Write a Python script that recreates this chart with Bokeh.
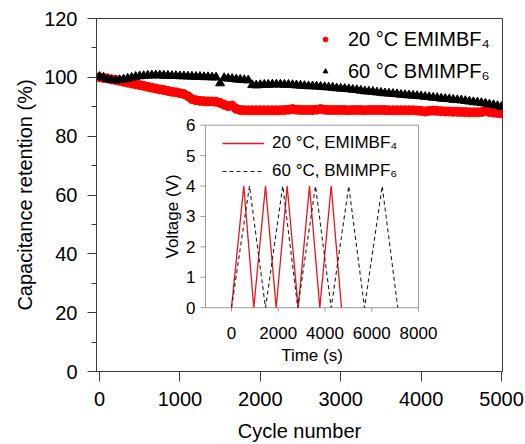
import math
from bokeh.plotting import figure
from bokeh.models import Range1d, Legend, LegendItem, FixedTicker
from bokeh.core.properties import value
from bokeh.embed import file_html
from bokeh.resources import INLINE

FONT = "Liberation Sans"

# ---------------- main data ----------------
cycles = list(range(0, 5001, 50))

red_retention = [
    100.0, 99.8, 99.6, 99.3, 99.1, 98.8, 98.5, 98.2, 97.9, 97.6,
    97.4, 97.1, 96.8, 96.5, 96.2, 95.9, 95.7, 95.4, 95.1, 94.9,
    94.6, 94.3, 93.6, 92.6, 92.2, 92.0, 91.9, 91.8, 91.8, 91.7,
    91.3, 90.7, 90.2, 90.4, 89.3, 88.9, 88.8, 88.8, 88.8, 88.8,
    88.8, 88.8, 88.8, 88.8, 88.8, 88.8, 88.9, 89.0, 89.2, 89.0,
    88.9, 88.9, 88.9, 88.9, 89.0, 89.2, 89.0, 88.9, 88.9, 88.9,
    88.9, 88.9, 88.8, 88.9, 88.9, 88.9, 88.8, 88.9, 88.9, 88.9,
    88.9, 88.9, 88.8, 88.8, 88.8, 88.8, 88.8, 88.8, 88.8, 88.7,
    88.6, 88.4, 88.6, 88.7, 88.6, 88.5, 88.4, 88.4, 88.3, 88.3,
    88.2, 88.2, 88.1, 88.1, 88.1, 88.2, 88.6, 88.2, 88.0, 87.9,
    87.8,
]

black_retention = [
    100.2, 99.9, 99.4, 99.1, 99.0, 99.1, 99.3, 99.6, 99.9, 100.2,
    100.4, 100.5, 100.6, 100.7, 100.7, 100.7, 100.6, 100.6, 100.5, 100.5,
    100.4, 100.4, 100.3, 100.3, 100.2, 100.2, 100.1, 100.1, 100.0, 100.0,
    98.0, 99.8, 99.6, 99.5, 99.3, 99.2, 99.1, 99.0, 97.4, 97.3,
    97.4, 97.5, 97.5, 97.6, 97.6, 97.6, 97.5, 97.5, 97.4, 97.3,
    97.2, 97.1, 97.0, 97.0, 96.9, 96.8, 96.7, 96.6, 96.5, 96.3,
    96.2, 96.1, 96.0, 95.8, 95.7, 95.5, 95.3, 95.2, 95.1, 94.9,
    94.8, 94.6, 94.5, 94.4, 94.3, 94.1, 94.0, 93.9, 93.8, 93.7,
    93.6, 93.4, 93.3, 93.1, 93.0, 92.8, 92.7, 92.6, 92.4, 92.3,
    92.2, 92.0, 91.8, 91.6, 91.5, 91.3, 91.1, 90.8, 90.6, 90.3,
    90.0,
]

main_x_ticks = [0, 1000, 2000, 3000, 4000, 5000]
main_y_ticks = [0, 20, 40, 60, 80, 100, 120]
main_y_minor = [10, 30, 50, 70, 90, 110]

label_red = "20 \u00b0C EMIMBF\u2084"
label_black = "60 \u00b0C BMIMPF\u2086"

# ---------------- inset data ----------------
red_time = [0, 526, 954, 1455, 1912, 2383, 2853, 3337, 3778, 4265, 4706]
red_volt = [0, 4, 0, 4, 0, 4, 0, 4, 0, 4, 0]
black_time = [0, 770, 1455, 2195, 2836, 3594, 4265, 5018, 5690, 6447, 7114]
black_volt = [0, 4, 0, 4, 0, 4, 0, 4, 0, 4, 0]

inset_x_ticks = [0, 2000, 4000, 6000, 8000]
inset_y_ticks = [0, 1, 2, 3, 4, 5, 6]
inset_x_limits = (-1112, 8000)
inset_y_limits = (0, 6)

inset_label_red = "20 \u00b0C, EMIMBF\u2084"
inset_label_black = "60 \u00b0C, BMIMPF\u2086"

# ---------------- figure ----------------
W, H = 525, 444
BL, BR, BT, BB = 96, 23, 18, 72
FW, FH = W - BL - BR, H - BT - BB

p = figure(width=W, height=H, output_backend="svg", toolbar_location=None,
           x_range=Range1d(-37, 5012), y_range=Range1d(0, 120),
           min_border_left=BL, min_border_right=BR,
           min_border_top=BT, min_border_bottom=BB)
p.grid.visible = False
p.outline_line_color = "#3a3a3a"
p.background_fill_color = "white"
p.border_fill_color = "white"

# extra ranges: place the inset (time / voltage) inside the main frame
t_range = Range1d(-5775, 11594)
v_range = Range1d(-2.098, 9.508)
p.extra_x_ranges = {"t": t_range}
p.extra_y_ranges = {"v": v_range}
t_per_px = (t_range.end - t_range.start) / FW
v_per_px = (v_range.end - v_range.start) / FH

r_red = p.scatter(cycles, red_retention, marker="circle", size=9,
                  fill_color="#ff0000", line_color="#ff0000")
r_black = p.scatter(cycles, black_retention, marker="triangle", size=9,
                    fill_color="black", line_color="black")

p.xaxis.ticker = FixedTicker(ticks=main_x_ticks)
p.yaxis.ticker = FixedTicker(ticks=main_y_ticks, minor_ticks=main_y_minor)
for ax in (p.xaxis[0], p.yaxis[0]):
    ax.axis_line_color = "#3a3a3a"
    ax.major_tick_line_color = "#3a3a3a"
    ax.minor_tick_line_color = "#3a3a3a"
    ax.major_tick_in = 0
    ax.major_tick_out = 9
    ax.minor_tick_in = 0
    ax.minor_tick_out = 5
    ax.major_label_text_font = FONT
    ax.major_label_text_font_size = "20px"
    ax.major_label_text_color = "black"
    ax.axis_label_text_font = FONT
    ax.axis_label_text_font_size = "20px"
    ax.axis_label_text_font_style = "normal"
    ax.axis_label_text_color = "black"
p.xaxis.minor_tick_line_color = None
p.xaxis.major_tick_out = 10
p.xaxis.major_label_standoff = 10
p.xaxis.axis_label_standoff = 11
p.yaxis.major_label_standoff = 10
p.yaxis.axis_label_standoff = 5
p.xaxis.axis_label = "Cycle number"
p.yaxis.axis_label = "Capacitance retention (%)"

legend = Legend(items=[LegendItem(label=label_red, renderers=[r_red]),
                       LegendItem(label=label_black, renderers=[r_black])],
                location=(223, 286))
legend.background_fill_alpha = 0
legend.border_line_color = None
legend.label_text_font = FONT
legend.label_text_font_size = "20px"
legend.label_text_color = "black"
legend.glyph_width = 12
legend.glyph_height = 28
legend.label_height = 28
legend.spacing = 4
legend.label_standoff = 17
legend.margin = 0
legend.padding = 0
p.add_layout(legend)

# ---------------- inset ----------------
GRAY = "#9a9a9a"
p.quad(left=[inset_x_limits[0]], right=[inset_x_limits[1]],
       bottom=[inset_y_limits[0]], top=[inset_y_limits[1]],
       fill_color="white", line_color=GRAY, line_width=1,
       x_range_name="t", y_range_name="v")

l_red = p.line(red_time, red_volt, line_color="#e8141b", line_width=1.3,
               x_range_name="t", y_range_name="v")
l_black = p.line(black_time, black_volt, line_color="#222222", line_width=1.1,
                 line_dash="4 3", x_range_name="t", y_range_name="v")

x0 = inset_x_limits[0]
y0 = inset_y_limits[0]
p.segment(x0=inset_x_ticks, y0=[y0] * len(inset_x_ticks),
          x1=inset_x_ticks, y1=[y0 - 4 * v_per_px] * len(inset_x_ticks),
          line_color=GRAY, line_width=1, x_range_name="t", y_range_name="v")
p.segment(x0=[x0] * len(inset_y_ticks), y0=inset_y_ticks,
          x1=[x0 - 5 * t_per_px] * len(inset_y_ticks), y1=inset_y_ticks,
          line_color=GRAY, line_width=1, x_range_name="t", y_range_name="v")

TF = value(FONT)
p.text(x=inset_x_ticks, y=[y0] * len(inset_x_ticks),
       text=[str(t) for t in inset_x_ticks],
       x_range_name="t", y_range_name="v", y_offset=25,
       text_align="center", text_baseline="middle",
       text_font=TF, text_font_size="17px", text_color="black")
p.text(x=[x0] * len(inset_y_ticks), y=inset_y_ticks,
       text=[str(v) for v in inset_y_ticks],
       x_range_name="t", y_range_name="v", x_offset=-10,
       text_align="right", text_baseline="middle",
       text_font=TF, text_font_size="17px", text_color="black")
p.text(x=[(inset_x_limits[0] + inset_x_limits[1]) / 2], y=[y0],
       text=["Time (s)"], x_range_name="t", y_range_name="v", y_offset=48,
       text_align="center", text_baseline="middle",
       text_font=TF, text_font_size="17px", text_color="black")
p.text(x=[x0], y=[(inset_y_limits[0] + inset_y_limits[1]) / 2],
       text=["Voltage (V)"], x_range_name="t", y_range_name="v", x_offset=-33,
       angle=math.pi / 2, text_align="center", text_baseline="middle",
       text_font=TF, text_font_size="17px", text_color="black")

ilegend = Legend(items=[LegendItem(label=inset_label_red, renderers=[l_red]),
                        LegendItem(label=inset_label_black, renderers=[l_black])],
                 location=(126, 188))
ilegend.background_fill_alpha = 0
ilegend.border_line_color = None
ilegend.label_text_font = FONT
ilegend.label_text_font_size = "17px"
ilegend.label_text_color = "black"
ilegend.glyph_width = 42
ilegend.glyph_height = 24
ilegend.label_height = 24
ilegend.spacing = 4
ilegend.label_standoff = 8
ilegend.margin = 0
ilegend.padding = 0
p.add_layout(ilegend)

open("out.html", "w").write(file_html(p, INLINE))
